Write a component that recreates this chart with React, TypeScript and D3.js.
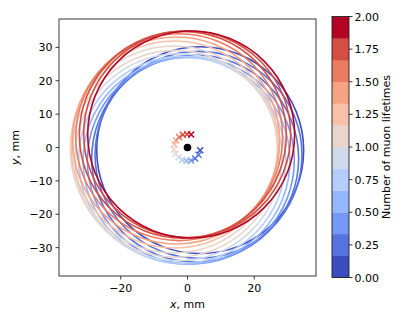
import React from "react";
import * as d3 from "d3";

// orbit centres (mm) and the time of each orbit (muon lifetimes)
const orbitTimes = [0.07, 0.2, 0.33, 0.47, 0.6, 0.73, 0.87, 1.0, 1.13, 1.27, 1.4, 1.53, 1.67, 1.8, 1.93];
const centerX = [3.8, 3.3, 2.3, 1.0, -0.3, -1.6, -2.7, -3.6, -4.1, -3.9, -3.4, -2.5, -1.4, -0.1, 1.1];
const centerY = [-0.8, -2.2, -3.3, -3.9, -4.0, -3.7, -2.9, -1.9, -0.6, 0.9, 2.1, 3.1, 3.8, 4.0, 3.9];
const orbitRadius = 31;

const xTicks = [-20, 0, 20];
const yTicks = [-30, -20, -10, 0, 10, 20, 30];
const cbarTicks = [0, 0.25, 0.5, 0.75, 1.0, 1.25, 1.5, 1.75, 2.0];
const nLevels = 12;

// matplotlib coolwarm (Moreland) stops
const coolwarm = [
  [59, 76, 192], [68, 90, 204], [77, 104, 215], [87, 117, 225], [98, 130, 234],
  [108, 142, 241], [119, 154, 247], [130, 165, 251], [141, 176, 254], [152, 185, 255],
  [163, 194, 255], [174, 201, 253], [184, 208, 249], [194, 213, 244], [204, 217, 238],
  [213, 219, 230], [221, 221, 221], [229, 216, 209], [236, 211, 197], [241, 204, 185],
  [245, 196, 173], [247, 187, 160], [247, 177, 148], [247, 166, 135], [244, 154, 123],
  [241, 141, 111], [236, 127, 99], [229, 112, 88], [222, 96, 77], [213, 80, 66],
  [203, 62, 56], [192, 40, 47], [180, 4, 38],
];
const cw = d3
  .scaleLinear<string>()
  .domain(coolwarm.map((_, i) => i / (coolwarm.length - 1)))
  .range(coolwarm.map((c) => `rgb(${c[0]},${c[1]},${c[2]})`))
  .interpolate(d3.interpolateRgb);

const levelColor = (t: number) => {
  const k = Math.min(nLevels - 1, Math.max(0, Math.floor((t / 2) * nLevels)));
  return cw(k / (nLevels - 1));
};

const font = "DejaVu Sans, sans-serif";
const fs = 11;

export default function App() {
  const x = d3.scaleLinear().domain([-38.5, 38.5]).range([59, 316]);
  const y = d3.scaleLinear().domain([-38.5, 38.5]).range([276, 19]);
  const cb = d3.scaleLinear().domain([0, 2]).range([277.5, 16.5]);
  const cbX = 332;
  const cbW = 17;
  const levels = d3.range(nLevels);

  return (
    <svg width={407} height={326} style={{ position: "absolute", left: 0, top: 0 }} fontFamily={font}>
      <rect width={407} height={326} fill="white" />
      <defs>
        <clipPath id="ax">
          <rect x={59} y={19} width={257} height={257} />
        </clipPath>
      </defs>
      <g clipPath="url(#ax)">
        {orbitTimes.map((t, i) => (
          <circle
            key={i}
            cx={x(centerX[i])}
            cy={y(centerY[i])}
            r={x(orbitRadius) - x(0)}
            fill="none"
            stroke={levelColor(t)}
            strokeWidth={1.6}
          />
        ))}
        {orbitTimes.map((t, i) => {
          const px = x(centerX[i]);
          const py = y(centerY[i]);
          const s = 3;
          return (
            <path
              key={"m" + i}
              d={`M${px - s},${py - s}L${px + s},${py + s}M${px - s},${py + s}L${px + s},${py - s}`}
              stroke={levelColor(t)}
              strokeWidth={1.5}
            />
          );
        })}
        <circle cx={x(0)} cy={y(0)} r={3.8} fill="black" />
      </g>
      <rect x={59} y={19} width={257} height={257} fill="none" stroke="#222" strokeWidth={0.9} />
      {xTicks.map((v) => (
        <g key={v}>
          <line x1={x(v)} x2={x(v)} y1={276} y2={279.5} stroke="#222" strokeWidth={0.9} />
          <text x={x(v)} y={292} fontSize={fs} textAnchor="middle">
            {v < 0 ? "\u2212" + Math.abs(v) : v}
          </text>
        </g>
      ))}
      {yTicks.map((v) => (
        <g key={v}>
          <line x1={55.5} x2={59} y1={y(v)} y2={y(v)} stroke="#222" strokeWidth={0.9} />
          <text x={52.5} y={y(v) + 4} fontSize={fs} textAnchor="end">
            {v < 0 ? "\u2212" + Math.abs(v) : v}
          </text>
        </g>
      ))}
      <text x={187.5} y={308} fontSize={fs} textAnchor="middle">
        <tspan fontStyle="italic">x</tspan>, mm
      </text>
      <text transform={`translate(19,147.5) rotate(-90)`} fontSize={fs} textAnchor="middle">
        <tspan fontStyle="italic">y</tspan>, mm
      </text>

      {levels.map((k) => (
        <rect
          key={k}
          x={cbX}
          y={cb(((k + 1) * 2) / nLevels)}
          width={cbW}
          height={cb((k * 2) / nLevels) - cb(((k + 1) * 2) / nLevels) + 0.3}
          fill={cw(k / (nLevels - 1))}
        />
      ))}
      <rect x={cbX} y={cb(2)} width={cbW} height={cb(0) - cb(2)} fill="none" stroke="#222" strokeWidth={0.9} />
      {cbarTicks.map((v) => (
        <g key={v}>
          <line x1={cbX + cbW} x2={cbX + cbW + 3.5} y1={cb(v)} y2={cb(v)} stroke="#222" strokeWidth={0.9} />
          <text x={cbX + cbW + 5.5} y={cb(v) + 4} fontSize={fs}>
            {v.toFixed(2)}
          </text>
        </g>
      ))}
      <text transform={`translate(390,147) rotate(-90)`} fontSize={fs} textAnchor="middle">
        Number of muon lifetimes
      </text>
    </svg>
  );
}
